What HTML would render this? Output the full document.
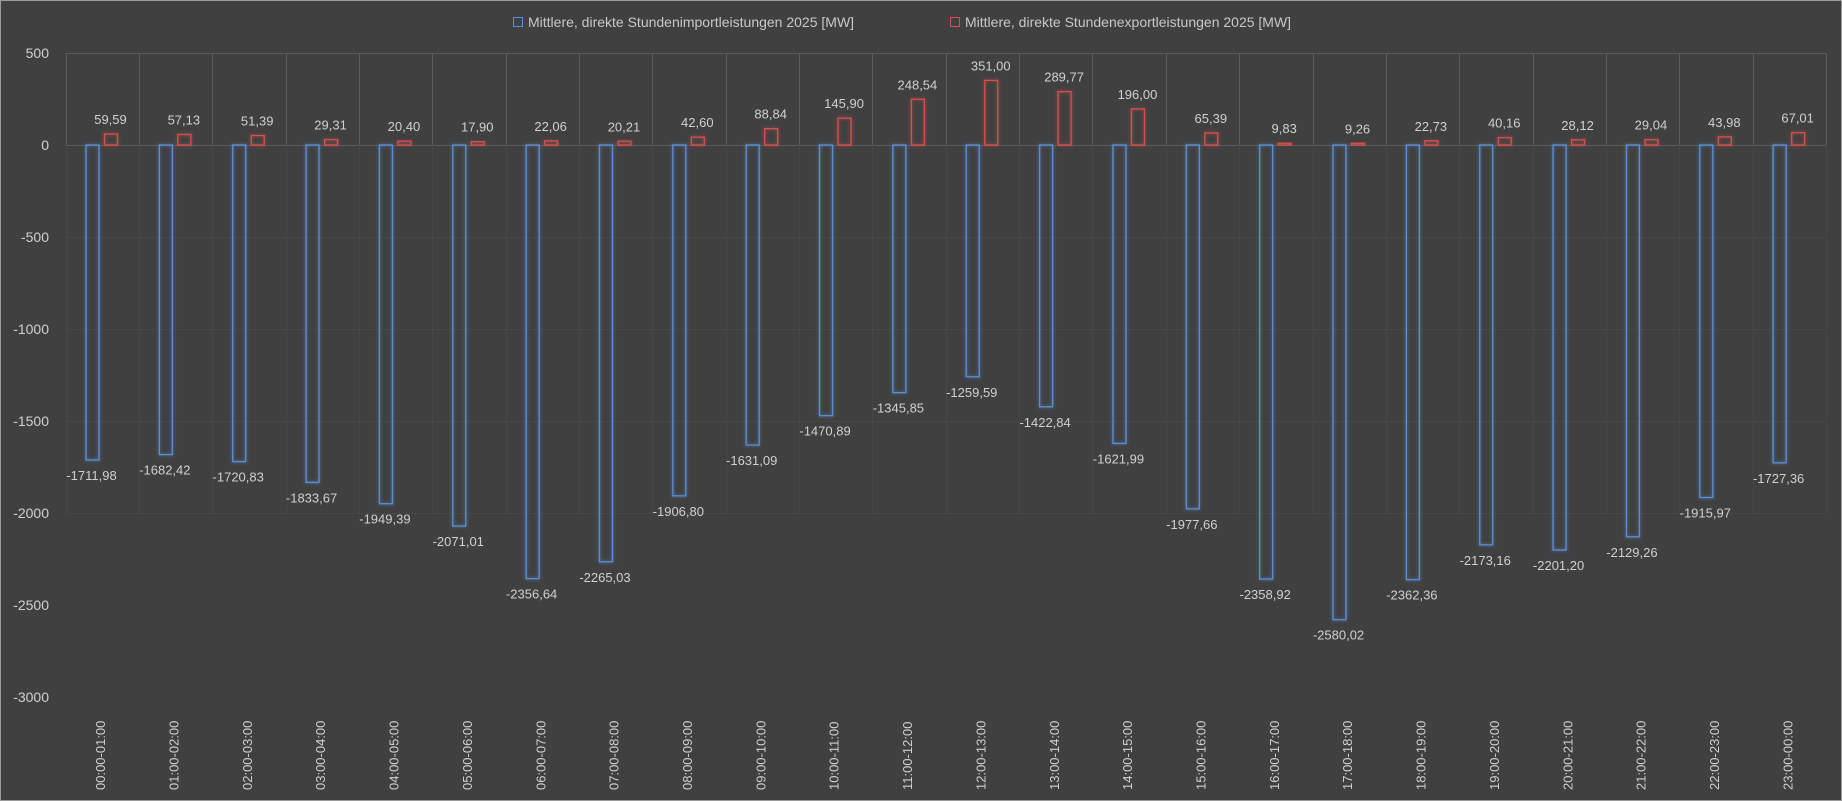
<!DOCTYPE html>
<html><head><meta charset="utf-8"><style>
html,body{margin:0;padding:0;background:#404040;}
svg{display:block;font-family:"Liberation Sans",sans-serif;}
</style></head><body>
<svg width="1842" height="801" xmlns="http://www.w3.org/2000/svg">
<rect x="0.5" y="0.5" width="1841" height="800" fill="#404040" stroke="#9a9a9a"/>
<defs>
<filter id="gb" x="-50%" y="-50%" width="200%" height="200%"><feGaussianBlur stdDeviation="1.5"/></filter>
</defs>
<g id="grid"></g>
<g id="bars"></g>
<g id="txt" fill="#d0d0d0"></g>
<g font-size="14" fill="#c8c8c8">
<rect x="513.5" y="17.5" width="9" height="9" fill="none" stroke="#5b8fd6"/>
<text x="528" y="27">Mittlere, direkte Stundenimportleistungen 2025 [MW]</text>
<rect x="950.5" y="17.5" width="9" height="9" fill="none" stroke="#d65050"/>
<text x="965" y="27">Mittlere, direkte  Stundenexportleistungen 2025 [MW]</text>
</g>
</svg>
<script>
const imp=[-1711.98,-1682.42,-1720.83,-1833.67,-1949.39,-2071.01,-2356.64,-2265.03,-1906.80,-1631.09,-1470.89,-1345.85,-1259.59,-1422.84,-1621.99,-1977.66,-2358.92,-2580.02,-2362.36,-2173.16,-2201.20,-2129.26,-1915.97,-1727.36];
const exp=[59.59,57.13,51.39,29.31,20.40,17.90,22.06,20.21,42.60,88.84,145.90,248.54,351.00,289.77,196.00,65.39,9.83,9.26,22.73,40.16,28.12,29.04,43.98,67.01];
const NS="http://www.w3.org/2000/svg";
function el(p,t,a,txt){const e=document.createElementNS(NS,t);for(const k in a)e.setAttribute(k,a[k]);if(txt!==undefined)e.textContent=txt;p.appendChild(e);return e;}
const L=65.5,R=1826,W=(R-L)/24,Y0=145,S=92/500;
const y=v=>Y0-v*S;
const g=document.getElementById('grid'),b=document.getElementById('bars'),t=document.getElementById('txt');
for(let v=500;v>=-3000;v-=500){
  if(v>=0) el(g,'line',{x1:L,x2:R,y1:y(v)+.5,y2:y(v)+.5,stroke:'#5c5c5c'});
  else if(v>-2500) el(g,'line',{x1:L,x2:R,y1:y(v)+.5,y2:y(v)+.5,stroke:'#474747'});
  el(t,'text',{x:49,y:y(v)+5,'text-anchor':'end','font-size':14},String(v));
}
for(let i=0;i<=24;i++){const x=Math.round(L+i*W)+.5;
  el(g,'line',{x1:x,x2:x,y1:53,y2:145,stroke:'#5c5c5c'});
  el(g,'line',{x1:x,x2:x,y1:145,y2:513,stroke:'#474747'});}
const f=v=>v.toFixed(2).replace('.',',');
for(let i=0;i<24;i++){
  const x0=L+i*W, bx=x0+20.5, rx=x0+39;
  const yb=y(imp[i]);
  el(b,'rect',{x:bx,y:Y0,width:13,height:yb-Y0,fill:'none',stroke:'#5b8fd6','stroke-width':3,opacity:.35,filter:'url(#gb)'});
  el(b,'rect',{x:bx,y:Y0,width:13,height:yb-Y0,fill:'none',stroke:'#5b8fd6','stroke-width':1.3});
  const yr=y(exp[i]);
  el(b,'rect',{x:rx,y:yr,width:13,height:Y0-yr,fill:'none',stroke:'#d65050','stroke-width':3,opacity:.35,filter:'url(#gb)'});
  el(b,'rect',{x:rx,y:yr,width:13,height:Y0-yr,fill:'none',stroke:'#d65050','stroke-width':1.3});
  el(t,'text',{x:rx+6,y:yr-10,'text-anchor':'middle','font-size':13},f(exp[i]));
  el(t,'text',{x:bx+5.5,y:yb+20,'text-anchor':'middle','font-size':13},f(imp[i]));
  const hh=String(i).padStart(2,'0'),nh=String((i+1)%24).padStart(2,'0');
  const cx=x0+W/2+3;
  el(t,'text',{transform:`translate(${cx},790) rotate(-90)`,'font-size':13},`${hh}:00-${nh}:00`);
}
</script>
</body></html>
